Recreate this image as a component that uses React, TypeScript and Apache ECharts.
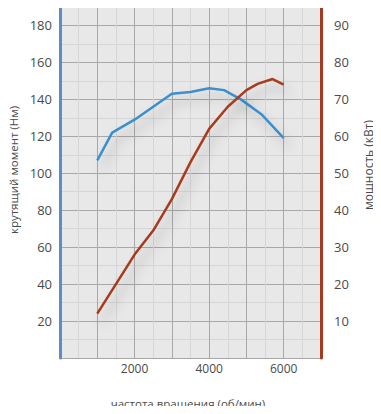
import React, { useEffect, useRef } from "react";
import * as echarts from "echarts";

const rpm = [1000, 1400, 2000, 2500, 3000, 3500, 4000, 4400, 4850, 5400, 6000];
const torque = [107, 122, 129, 136, 143, 144, 146, 145, 140, 132, 119];
const powerRpm = [1000, 1500, 2000, 2500, 3000, 3500, 4000, 4500, 5000, 5300, 5700, 6000];
const power = [12, 20, 28, 34.5, 43, 53, 62, 68, 72.5, 74.2, 75.5, 74];
const xTickLabels = [2000, 4000, 6000];
const torqueTickLabels = [20, 40, 60, 80, 100, 120, 140, 160, 180];
const powerTickLabels = [10, 20, 30, 40, 50, 60, 70, 80, 90];
const xTitle = "частота вращения (об/мин)";
const leftTitle = "крутящий момент (Нм)";
const rightTitle = "мощность (кВт)";

export default function App() {
  const ref = useRef<HTMLDivElement>(null);
  useEffect(() => {
    const chart = echarts.init(ref.current!, null, { renderer: "svg" });
    const font = "'Open Sans', 'Noto Sans', sans-serif";
    const labelColor = "#4a4a4a";
    const shadow = {
      shadowColor: "rgba(0,0,0,0.28)",
      shadowBlur: 12,
      shadowOffsetX: 5,
      shadowOffsetY: 8,
    };
    const titleStyle = {
      fill: labelColor,
      fontSize: 11.5,
      fontFamily: font,
      textAlign: "center",
      textVerticalAlign: "top",
      align: "center",
      verticalAlign: "top",
    };
    chart.setOption({
      animation: false,
      backgroundColor: "#ffffff",
      grid: {
        left: 60,
        top: 7,
        width: 261,
        height: 351,
        show: true,
        backgroundColor: "#e8e8e8",
        borderWidth: 0,
      },
      graphic: [
        { type: "text", x: 188, y: 397, style: { ...titleStyle, text: xTitle } },
        { type: "text", x: 7, y: 170, rotation: Math.PI / 2, style: { ...titleStyle, text: leftTitle } },
        { type: "text", x: 362, y: 165, rotation: Math.PI / 2, style: { ...titleStyle, fontSize: 12, text: rightTitle } },
      ],
      xAxis: {
        type: "value",
        min: 0,
        max: 7000,
        interval: 1000,
        axisLine: { show: false },
        axisTick: { show: false },
        axisLabel: {
          color: labelColor,
          fontSize: 12,
          fontFamily: font,
          margin: 4,
          formatter: (v: number) => (xTickLabels.includes(v) ? String(v) : ""),
        },
        splitLine: { show: true, lineStyle: { color: "#a8a8a8", width: 1 } },
        minorTick: { show: false, splitNumber: 2 },
        minorSplitLine: { show: true, lineStyle: { color: "#d6d6d6", width: 1 } },
      },
      yAxis: [
        {
          type: "value",
          min: 0,
          max: 190,
          interval: 20,
          position: "left",
          axisLine: { show: true, lineStyle: { color: "#5b8dc9", width: 3 } },
          axisTick: { show: false },
          axisLabel: {
            color: labelColor,
            fontSize: 13,
            fontFamily: font,
            margin: 8,
            showMaxLabel: false,
            formatter: (v: number) => (torqueTickLabels.includes(v) ? String(v) : ""),
          },
          splitLine: { show: true, lineStyle: { color: "#a8a8a8", width: 1 } },
          minorTick: { show: false, splitNumber: 2 },
          minorSplitLine: { show: true, lineStyle: { color: "#d6d6d6", width: 1 } },
        },
        {
          type: "value",
          min: 0,
          max: 95,
          interval: 10,
          position: "right",
          axisLine: { show: true, lineStyle: { color: "#a8381f", width: 3 } },
          axisTick: { show: false },
          axisLabel: {
            color: labelColor,
            fontSize: 13,
            fontFamily: font,
            margin: 13,
            showMaxLabel: false,
            formatter: (v: number) => (powerTickLabels.includes(v) ? String(v) : ""),
          },
          splitLine: { show: false },
        },
      ],
      series: [
        {
          type: "line",
          yAxisIndex: 0,
          data: rpm.map((r, i) => [r, torque[i]]),
          symbol: "none",
          lineStyle: { color: "#3b8fd0", width: 2.5, ...shadow },
        },
        {
          type: "line",
          yAxisIndex: 1,
          data: powerRpm.map((r, i) => [r, power[i]]),
          symbol: "none",
          lineStyle: { color: "#a83a1e", width: 2.5, ...shadow },
        },
      ],
    });
    return () => chart.dispose();
  }, []);
  return <div ref={ref} style={{ width: 381, height: 414, margin: -8 }} />;
}
